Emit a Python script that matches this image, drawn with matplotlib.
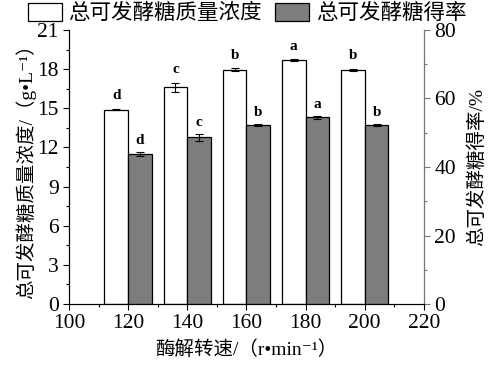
import numpy as np
import matplotlib
matplotlib.use('Agg')
import matplotlib.pyplot as plt
from matplotlib.ticker import MultipleLocator

plt.rcParams['font.family'] = ['Liberation Serif', 'Noto Sans CJK SC', 'DejaVu Sans']

# 数据
speeds = [120, 140, 160, 180, 200]
conc = [14.9, 16.6, 17.95, 18.7, 17.95]          # g/L
conc_err = [0.05, 0.35, 0.1, 0.05, 0.08]
yield_ = [43.8, 48.7, 52.3, 54.5, 52.3]           # %
yield_err = [0.5, 1.0, 0.2, 0.4, 0.3]
conc_letters = ['d', 'c', 'b', 'a', 'b']
yield_letters = ['d', 'c', 'b', 'a', 'b']

fig = plt.figure(figsize=(4.94, 3.74), dpi=100)
ax = fig.add_axes([0.1397, 0.187, 0.7183, 0.733])
ax2 = ax.twinx()

x = np.array(speeds, dtype=float)
w = 8
b1 = ax.bar(x - w / 2, conc, width=w, color='white', edgecolor='black', linewidth=0.9,
            yerr=conc_err, capsize=3, error_kw=dict(elinewidth=0.8, capthick=0.8),
            label='总可发酵糖质量浓度')
b2 = ax2.bar(x + w / 2, yield_, width=w, color='#7d7d7d', edgecolor='black', linewidth=0.9,
             yerr=yield_err, capsize=3, error_kw=dict(elinewidth=0.8, capthick=0.8),
             label='总可发酵糖得率')

for xi, v, e, t in zip(x, conc, conc_err, conc_letters):
    ax.text(xi - w / 2, v + e + 0.5, t, ha='center', va='bottom', fontsize=11, fontweight='bold')
for xi, v, e, t in zip(x, yield_, yield_err, yield_letters):
    ax2.text(xi + w / 2, v + e + 1.5, t, ha='center', va='bottom', fontsize=11, fontweight='bold')

ax.set_xlim(100, 220)
ax.set_ylim(0, 21)
ax2.set_ylim(0, 80)
ax.xaxis.set_major_locator(MultipleLocator(20))
ax.xaxis.set_minor_locator(MultipleLocator(10))
ax.yaxis.set_major_locator(MultipleLocator(3))
ax.yaxis.set_minor_locator(MultipleLocator(1.5))
ax2.yaxis.set_major_locator(MultipleLocator(20))
ax2.yaxis.set_minor_locator(MultipleLocator(10))

for a in (ax, ax2):
    a.spines['top'].set_visible(False)
    a.tick_params(which='major', direction='out', length=4, width=0.8, labelsize=15.5)
    a.tick_params(which='minor', direction='out', length=2.5, width=0.8)
ax2.spines['right'].set_color('#777777')
ax2.tick_params(axis='y', which='both', color='#777777')

ax.set_xlabel('酶解转速/（r•min⁻¹）', fontsize=14, labelpad=5)
ax.set_ylabel('总可发酵糖质量浓度/（g•L⁻¹）', fontsize=14, labelpad=1)
ax2.set_ylabel('总可发酵糖得率/%', fontsize=14, labelpad=8)

fig.legend(handles=[b1, b2], loc='upper center', bbox_to_anchor=(0.5, 1.015), ncol=2,
           frameon=False, fontsize=15.5, handlelength=1.6, handleheight=0.9,
           handletextpad=0.3, columnspacing=0.6, borderaxespad=0)

fig.savefig('out.png', dpi=100)
